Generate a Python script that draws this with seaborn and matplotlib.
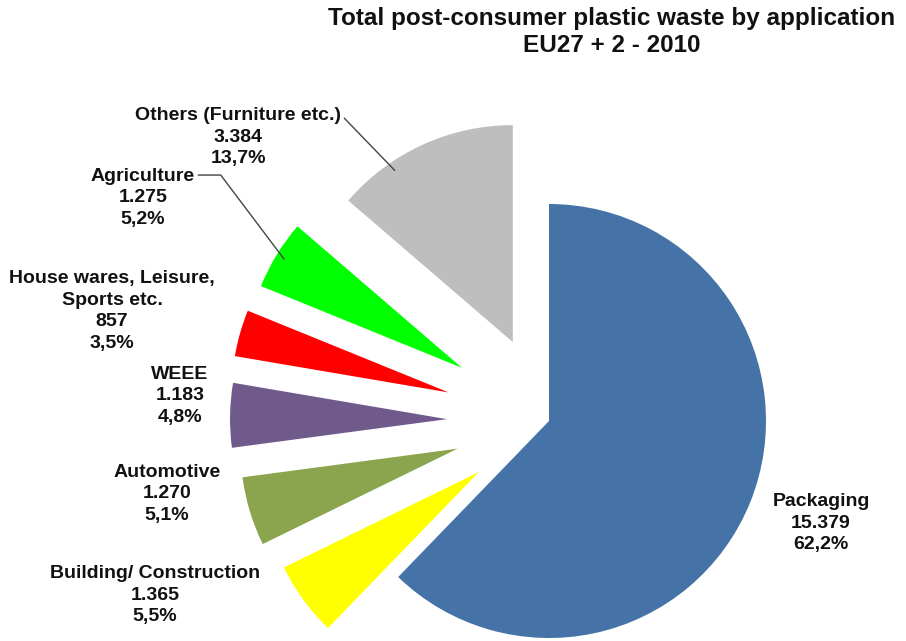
import numpy as np
import matplotlib
matplotlib.use("Agg")
import matplotlib.pyplot as plt
import seaborn as sns

# dados (kt) - resíduos plásticos pós-consumo por aplicação, EU27 + 2, 2010
categories = ["Packaging", "Building/ Construction", "Automotive", "WEEE",
              "House wares, Leisure,\nSports etc.", "Agriculture",
              "Others (Furniture etc.)"]
values = [15379, 1365, 1270, 1183, 857, 1275, 3384]
value_labels = ["15.379", "1.365", "1.270", "1.183", "857", "1.275", "3.384"]
pct_labels = ["62,2%", "5,5%", "5,1%", "4,8%", "3,5%", "5,2%", "13,7%"]

colors = ["#4573A7", "#FFFF00", "#8BA54F", "#705A8C", "#FF0000", "#00FF00",
          "#BEBEBE"]
explode = [0, 0.40, 0.44, 0.47, 0.48, 0.47, 0.40]

sns.set_style("white")
plt.rcParams["font.family"] = ["Liberation Sans", "DejaVu Sans"]

W, H = 906, 641
fig = plt.figure(figsize=(W / 100, H / 100), dpi=100)
ax = fig.add_axes([0, 0, 1, 1])

# pizza com raio 1, centro em (0, 0); limites escolhidos para posicionar na figura
cx, cy, r_px = 549, 421, 217
wedges, _ = ax.pie(values, colors=colors, startangle=90, counterclock=False,
                   explode=explode, radius=1,
                   wedgeprops=dict(linewidth=0))
ax.set_xlim(-cx / r_px, (W - cx) / r_px)
ax.set_ylim(-(H - cy) / r_px, cy / r_px)
ax.set_aspect("equal")
ax.axis("off")

fig.text(612 / W, 1 - 18 / H, "Total post-consumer plastic waste by application",
         ha="center", va="center", fontsize=17.5, fontweight="bold",
         color="#111111")
fig.text(612 / W, 1 - 45 / H, "EU27 + 2 - 2010", ha="center", va="center",
         fontsize=17.5, fontweight="bold", color="#111111")

# posições dos rótulos (pixels, origem no topo)
label_pos = [(821, 523), (155, 595), (167, 494), (180, 396), (112, 311),
             (143, 198), (238, 137)]
# fatia -> (fração do ângulo onde a linha toca, ângulo da linha)
leaders = {5: (0.5, -53), 6: (0.7, -46)}

for i, w in enumerate(wedges):
    txt = f"{categories[i]}\n{value_labels[i]}\n{pct_labels[i]}"
    x, y = label_pos[i]
    if i in leaders:
        frac, ang = leaders[i]
        tm = np.deg2rad(w.theta1 + frac * (w.theta2 - w.theta1))
        px = w.center[0] + 0.96 * w.r * np.cos(tm)
        py = w.center[1] + 0.96 * w.r * np.sin(tm)
        ax.annotate(txt, xy=(px, py), xycoords="data", xytext=(x, H - y),
                    textcoords="figure pixels", ha="center", va="center",
                    fontsize=14, fontweight="bold", color="#111111",
                    linespacing=1.36,
                    arrowprops=dict(arrowstyle="-", color="#444444", lw=1,
                                    relpos=(1, 0.88), shrinkA=0, shrinkB=0,
                                    connectionstyle=f"angle,angleA=0,angleB={ang},rad=0"))
    else:
        fig.text(x / W, 1 - y / H, txt, ha="center", va="center", fontsize=14,
                 fontweight="bold", color="#111111", linespacing=1.36)

fig.savefig("out.png", dpi=100)
